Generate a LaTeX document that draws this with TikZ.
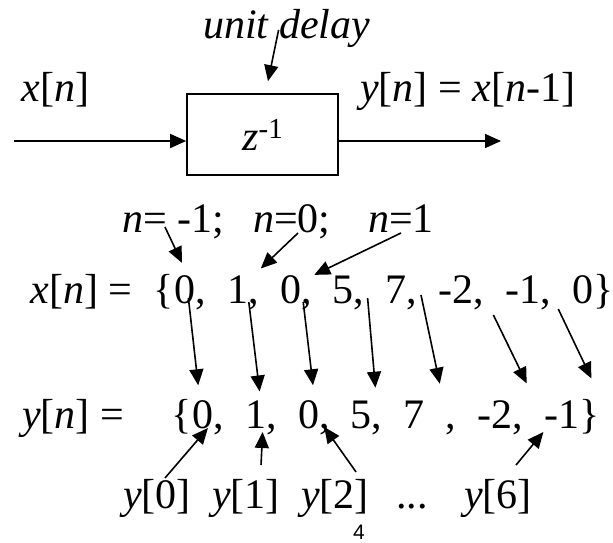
\documentclass[tikz,border=0pt]{standalone}
\usepackage{fontspec}
\setmainfont{Liberation Serif}
\setsansfont{Liberation Sans}
\usetikzlibrary{arrows.meta, positioning}
\newcommand{\iv}[1]{\textit{#1}}
\tikzset{
  txt/.style  ={inner sep=0pt, anchor=base west, font=\fontsize{42}{50}\selectfont},
  num/.style  ={txt},
  delay/.style={rectangle, draw=black, line width=1.7pt, inner sep=0pt,
                minimum width=151pt, minimum height=81pt,
                font=\fontsize{42}{50}\selectfont},
  ar/.style   ={-{Triangle[length=16pt, width=14pt]}, line width=1.6pt, black}
}
\begin{document}
\begin{tikzpicture}[x=1pt, y=1pt]
\useasboundingbox (0,0) rectangle (613,-542);
% unit delay block
\node[delay] (box) at (262.5,-134.5) {\iv{z}\raisebox{12pt}{\fontsize{29}{30}\selectfont -1}};
\node[txt, font=\fontsize{42}{50}\selectfont\itshape] (ud) at (203,-38) {unit delay};
\node[txt] (xin)  at (21.5,-101) {\iv{x}[\iv{n}]};
\node[txt] (yout) at (360,-101)  {\iv{y}[\iv{n}] = \iv{x}[\iv{n}-1]};
\coordinate (in)  at (14,-141);
\coordinate (out) at (501,-141);
\draw[ar] (in) -- (in -| box.west);
\draw[ar] (out -| box.east) -- (out);
\draw[ar] ([shift={(-8,-2)}]ud.center) -- ([shift={(5.5,12)}]box.north);

% index labels
\node[txt] (n1) at (122,-232) {\iv{n}= -1;};
\node[txt] (n2) at (253,-232) {\iv{n}=0;};
\node[txt] (n3) at (368,-232) {\iv{n}=1};

% x[n]
\node[num] (x0) at (174,-303) {0,};
\node[num, base right=21pt of x0] (x1) {1,};
\node[num, base right=21pt of x1] (x2) {0,};
\node[num, base right=21pt of x2] (x3) {5,};
\node[num, base right=21pt of x3] (x4) {7,};
\node[num, base right=21pt of x4] (x5) {-2,};
\node[num, base right=21pt of x5] (x6) {-1,};
\node[num, base right=21pt of x6] (x7) {0};
\node[txt, base left=0pt of x0]  (xl) {\iv{x}[\iv{n}] =~~\{};
\node[txt, base right=0pt of x7] (xr) {\}};

% y[n]
\node[txt] (yl) at (22,-428) {\iv{y}[\iv{n}] =};
\node[num] (y0) at (192,-428) {0,};
\node[num, base right=21pt of y0] (y1) {1,};
\node[num, base right=21pt of y1] (y2) {0,};
\node[num, base right=21pt of y2] (y3) {5,};
\node[num, base right=21pt of y3] (y4) {7~~,};
\node[num, base right=21pt of y4] (y5) {-2,};
\node[num, base right=21pt of y5] (y6) {-1};
\node[txt, base left=0pt of y0]  (yb) {\{};
\node[txt, base right=0pt of y6] (yr) {\}};

% sample labels
\node[txt] (l0) at (123,-508) {\iv{y}[0]};
\node[txt, base right=21pt of l0]   (l1)   {\iv{y}[1]};
\node[txt, base right=21pt of l1]   (l2)   {\iv{y}[2]};
\node[txt, base right=27pt of l2]   (dots) {...};
\node[txt, base right=36pt of dots] (l6)   {\iv{y}[6]};
\node[inner sep=0pt, anchor=base, font=\sffamily\fontsize{21}{22}\selectfont] (pg) at (359,-539) {4};

% n -> x[n]
\draw[ar] ([shift={(43,5)}]n1.base west) -- ([shift={(-8,12)}]x0.north);
\draw[ar] ([shift={(45,-1)}]n2.base west) -- ([shift={(2,6.6)}]x1.north east);
\draw[ar] ([shift={(33,-1)}]n3.base west) -- ([shift={(2.5,0)}]x2.north east);

% x[n] -> y[n]
\draw[ar] ([shift={(-17.5,5)}]x0.base east) -- ([shift={(-9.75,14.6)}]y0.north);
\draw[ar] ([shift={(-10,1)}]x1.base east)   -- ([shift={(-1.25,8.6)}]y1.north);
\draw[ar] ([shift={(-8.5,1)}]x2.base east)  -- ([shift={(-0.75,14.6)}]y2.north);
\draw[ar] ([shift={(3,5)}]x3.base east)     -- ([shift={(8.75,12.6)}]y3.north);
\draw[ar] ([shift={(3.5,8)}]x4.base east)   -- ([shift={(9.75,16.6)}]y4.north);
\draw[ar] ([shift={(9,-12)}]x5.base east)   -- ([shift={(26.25,16.6)}]y5.north);
\draw[ar] ([shift={(7,-6)}]x6.base east)    -- ([shift={(29.3,21.6)}]y6.north);

% labels -> y[n]
\draw[ar] ([shift={(42,30)}]l0.base west) -- (y0.base);
\draw[ar] ([shift={(49,43)}]l1.base west) -- ([shift={(1.75,-4)}]y1.base);
\draw[ar] ([shift={(55,36)}]l2.base west) -- ([shift={(-5.5,1)}]y2.base east);
\draw[ar] ([shift={(52,43)}]l6.base west) -- ([shift={(-1,-4)}]y6.base west);
\end{tikzpicture}
\end{document}
